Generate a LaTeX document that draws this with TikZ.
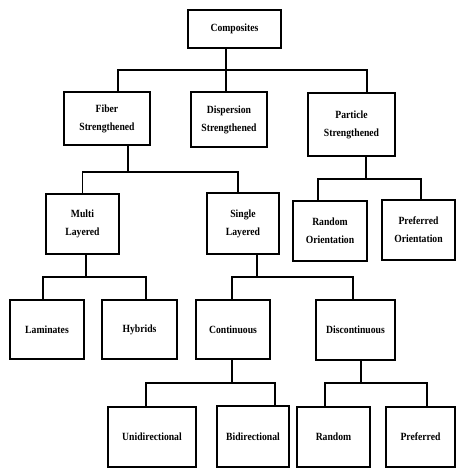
\documentclass[tikz,border=0pt]{standalone}
\usepackage{fontspec}
\setmainfont{Liberation Serif}[FakeStretch=0.88]
\usepackage{tikz}
\usetikzlibrary{positioning}

\tikzset{
  box/.style={draw=black, line width=1.6pt, inner sep=0pt, align=center,
    font=\fontsize{11}{18}\selectfont\bfseries},
  link/.style={line width=1.6pt}
}

\begin{document}
\begin{tikzpicture}[x=1pt,y=-1pt]
         \useasboundingbox (0,0) rectangle (456,468);
         % boxes
         \node[box, minimum width=93, minimum height=38] (comp) at (234.5,29) {Composites};
         \node[box, minimum width=86, minimum height=53] (fiber) at (107,118.5) {Fiber\\Strengthened};
         \node[box, minimum width=76, minimum height=55] (disp) at (229,119.5) {Dispersion\\Strengthened};
         \node[box, minimum width=87, minimum height=63] (part) at (351.5,124.5) {Particle\\Strengthened};
         \node[box, minimum width=73, minimum height=60] (multi) at (82.5,224) {Multi\\Layered};
         \node[box, minimum width=72, minimum height=61] (single) at (243,223.5) {Single\\Layered};
         \node[box, minimum width=74, minimum height=60] (rorient) at (330,231) {Random\\Orientation};
         \node[box, minimum width=73, minimum height=60] (porient) at (418.5,230) {Preferred\\Orientation};
         \node[box, minimum width=74, minimum height=59] (lam) at (47,329.5) {Laminates};
         \node[box, minimum width=75, minimum height=59] (hyb) at (139.5,329.5) {Hybrids};
         \node[box, minimum width=74, minimum height=59] (cont) at (233,329.5) {Continuous};
         \node[box, minimum width=79, minimum height=60] (disc) at (355.5,330) {Discontinuous};
         \node[box, minimum width=88, minimum height=60] (uni) at (152,437) {Unidirectional};
         \node[box, minimum width=72, minimum height=61] (bi) at (253,436.5) {Bidirectional};
         \node[box, minimum width=73, minimum height=60] (rand) at (333.5,437) {Random};
         \node[box, minimum width=69, minimum height=60] (pref) at (420.5,437) {Preferred};
         % bus points
         \coordinate (b1) at (226,70);
         \coordinate (b2) at (128,172);
         \coordinate (b3) at (366,179);
         \coordinate (b4) at (86,277);
         \coordinate (b5) at (257,277);
         \coordinate (b6) at (232,383);
         \coordinate (b7) at (361,383);
         % connectors
         \draw[link] (comp.south -| b1) -- (b1);
         \draw[link] ([xshift=11]fiber.north) |- (b1) -| ([xshift=15.5]part.north);
         \draw[link] (b1) -- (b1 |- disp.north);
         \draw[link] (fiber.south -| b2) -- (b2);
         \draw[link] (multi.north) |- (b2) -| ([xshift=-5]single.north);
         \draw[link] (part.south -| b3) -- (b3);
         \draw[link] ([xshift=-12]rorient.north) |- (b3) -| ([xshift=2.5]porient.north);
         \draw[link] (multi.south -| b4) -- (b4);
         \draw[link] ([xshift=-4]lam.north) |- (b4) -| ([xshift=6.5]hyb.north);
         \draw[link] (single.south -| b5) -- (b5);
         \draw[link] ([xshift=-1]cont.north) |- (b5) -| ([xshift=-2.5]disc.north);
         \draw[link] (cont.south -| b6) -- (b6);
         \draw[link] ([xshift=-6]uni.north) |- (b6) -| ([xshift=22]bi.north);
         \draw[link] (disc.south -| b7) -- (b7);
         \draw[link] ([xshift=-8.5]rand.north) |- (b7) -| ([xshift=6.5]pref.north);
      \end{tikzpicture}
\end{document}
